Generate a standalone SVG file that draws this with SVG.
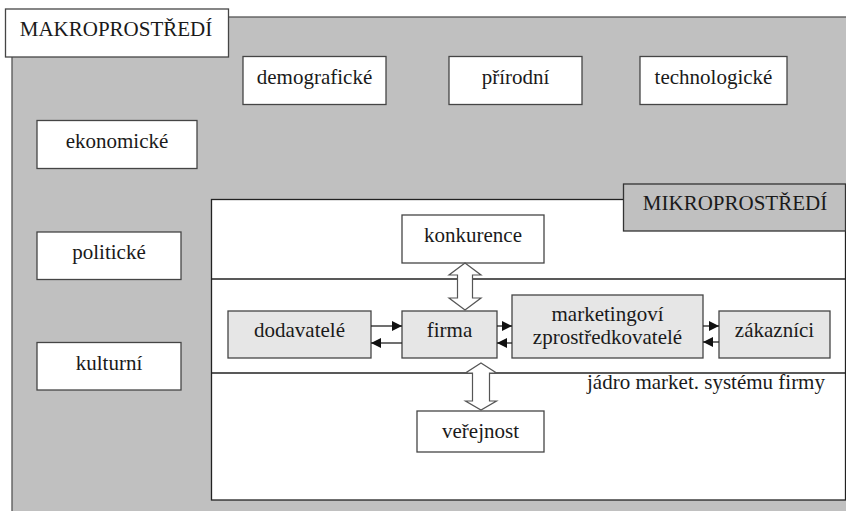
<svg xmlns="http://www.w3.org/2000/svg" width="846" height="511" viewBox="0 0 846 511">
<style>
text{font-family:'Liberation Serif',serif;font-size:21px;fill:#1a1a1a;text-anchor:middle}
.w{fill:#ffffff;stroke:#454545;stroke-width:1.3}
.g{fill:#e6e6e6;stroke:#454545;stroke-width:1.3}
.ln{stroke:#222;stroke-width:1.3;fill:none}
.dbl{fill:#ffffff;stroke:#555;stroke-width:1.2}
</style>
<defs>
<marker id="ah" viewBox="0 0 10 10" refX="10" refY="5" markerWidth="10" markerHeight="10" markerUnits="userSpaceOnUse" orient="auto">
<path d="M0,0 L10,5 L0,10 z" fill="#111"/>
</marker>
</defs>
<g id="makro">
<rect x="12" y="17" width="850" height="510" fill="#c0c0c0" stroke="#555" stroke-width="1.3"/>
</g>
<g id="makro-label">
<rect class="w" x="5.5" y="9" width="223" height="48"/>
<text x="116" y="36" font-family="Liberation Serif, serif">MAKROPROSTŘEDÍ</text>
</g>
<g id="demograficke"><rect class="w" x="243" y="56.5" width="143" height="48"/><text x="314.5" y="84">demografické</text></g>
<g id="prirodni"><rect class="w" x="449" y="56.5" width="133" height="48"/><text x="515.5" y="84">přírodní</text></g>
<g id="technologicke"><rect class="w" x="640" y="56.5" width="147" height="48"/><text x="713.5" y="84">technologické</text></g>
<g id="ekonomicke"><rect class="w" x="37" y="120.5" width="160" height="48"/><text x="117" y="148">ekonomické</text></g>
<g id="politicke"><rect class="w" x="37" y="232" width="144" height="47.5"/><text x="109" y="259">politické</text></g>
<g id="kulturni"><rect class="w" x="37" y="342.5" width="144" height="47.5"/><text x="109" y="370">kulturní</text></g>
<g id="mikro">
<rect x="211.5" y="199.5" width="634" height="300.5" fill="#ffffff" stroke="#222" stroke-width="1.3"/>
<line class="ln" x1="211.5" y1="279" x2="845.5" y2="279"/>
<line class="ln" x1="211.5" y1="373" x2="845.5" y2="373"/>
</g>
<g id="mikro-label">
<rect x="623.5" y="184" width="222" height="47" fill="#c0c0c0" stroke="#333" stroke-width="1.3"/>
<text x="735" y="210">MIKROPROSTŘEDÍ</text>
</g>
<g id="konkurence"><rect class="w" x="402" y="215" width="142" height="48"/><text x="473" y="242">konkurence</text></g>
<g id="dodavatele"><rect class="g" x="228" y="311" width="143" height="47"/><text x="299.5" y="337">dodavatelé</text></g>
<g id="firma"><rect class="g" x="402" y="311" width="95" height="47"/><text x="449.5" y="337">firma</text></g>
<g id="marketingovi"><rect class="g" x="512" y="295" width="191" height="63"/><text x="607.5" y="321">marketingoví</text><text x="607.5" y="344">zprostředkovatelé</text></g>
<g id="zakaznici"><rect class="g" x="719" y="311" width="111" height="47"/><text x="774.5" y="337">zákazníci</text></g>
<g id="verejnost"><rect class="w" x="417" y="411" width="127" height="41"/><text x="480.5" y="438">veřejnost</text></g>
<g id="jadro-label"><text x="706" y="389">jádro market. systému firmy</text></g>
<g id="connectors">
<line class="ln" x1="371" y1="326" x2="402" y2="326" marker-end="url(#ah)"/>
<line class="ln" x1="402" y1="343" x2="371" y2="343" marker-end="url(#ah)"/>
<line class="ln" x1="497" y1="326" x2="512" y2="326" marker-end="url(#ah)"/>
<line class="ln" x1="512" y1="343" x2="497" y2="343" marker-end="url(#ah)"/>
<line class="ln" x1="703" y1="326" x2="719" y2="326" marker-end="url(#ah)"/>
<line class="ln" x1="719" y1="342" x2="703" y2="342" marker-end="url(#ah)"/>
<polygon class="dbl" points="465,263 481,275 472.5,275 472.5,298 481,298 465,310 449,298 457.5,298 457.5,275 449,275"/>
<polygon class="dbl" points="481,363 496.5,373 489.5,373 489.5,401 496.5,401 481,410 465.5,401 472.5,401 472.5,373 465.5,373"/>
</g>
</svg>
